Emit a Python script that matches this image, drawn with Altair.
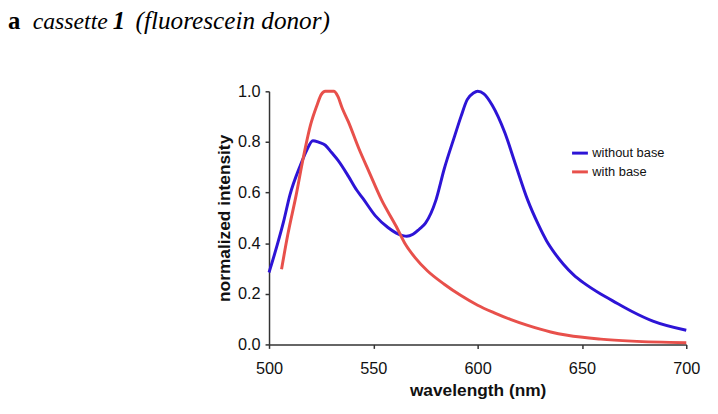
import altair as alt
import pandas as pd

# without base (blue)
blue_nm = [500, 504, 507, 510, 515, 518, 521, 524, 527, 530, 533, 538, 542, 545, 551,
           557, 561, 564, 566, 569, 572, 575, 580, 584, 589, 592, 595, 598, 600, 603,
           607, 613, 618, 624, 629, 633, 637, 641, 646, 651, 659, 667, 674, 684, 700]
blue_val = [0.284, 0.395, 0.486, 0.59, 0.707, 0.766, 0.805, 0.798, 0.787, 0.758, 0.728,
            0.665, 0.61, 0.577, 0.508, 0.462, 0.44, 0.43, 0.427, 0.435, 0.455, 0.479,
            0.57, 0.694, 0.824, 0.9, 0.967, 0.993, 1.0, 0.99, 0.945, 0.837, 0.715,
            0.57, 0.475, 0.41, 0.36, 0.318, 0.275, 0.242, 0.199, 0.162, 0.13, 0.092,
            0.056]

# with base (red)
red_nm = [506, 509, 513, 516, 520, 523, 525, 527, 531, 533, 535, 538, 543, 548, 554,
          561, 565, 570, 576, 584, 592, 600, 608, 616, 624, 635, 643, 659, 674, 700]
red_val = [0.297, 0.434, 0.59, 0.72, 0.87, 0.945, 0.987, 1.0, 1.0, 0.98, 0.935, 0.88,
           0.775, 0.681, 0.57, 0.466, 0.401, 0.343, 0.29, 0.238, 0.193, 0.155, 0.125,
           0.098, 0.075, 0.049, 0.036, 0.021, 0.013, 0.007]

series = ["without base", "with base"]
colors = ["#2d14d6", "#e8504b"]
x_ticks = [500, 550, 600, 650, 700]
y_ticks = [0.0, 0.2, 0.4, 0.6, 0.8, 1.0]

blue_df = pd.DataFrame({"nm": blue_nm, "val": blue_val, "series": series[0]})
red_df = pd.DataFrame({"nm": red_nm, "val": red_val, "series": series[1]})

color = alt.Color(
    "series:N",
    scale=alt.Scale(domain=series, range=colors),
    legend=alt.Legend(
        title=None, orient="none", legendX=305, legendY=53,
        symbolType="stroke", symbolStrokeWidth=3, symbolSize=256,
        labelFont="Liberation Sans", labelFontSize=13, labelColor="#111",
        rowPadding=2, symbolOffset=0, labelOffset=3,
    ),
)

xenc = alt.X(
    "nm:Q",
    scale=alt.Scale(domain=[500, 700], nice=False),
    axis=alt.Axis(
        title="wavelength (nm)", values=x_ticks, grid=False, labelFlush=False,
        labelFont="Liberation Sans", labelFontSize=16.5, labelColor="#111",
        titleFont="Liberation Sans", titleFontSize=17.5, titleFontWeight="bold",
        titleColor="#111", tickSize=4, labelPadding=12, titlePadding=5,
        domainColor="#333", tickColor="#333", domainWidth=1.5, tickWidth=1.5,
    ),
)
yenc = alt.Y(
    "val:Q",
    scale=alt.Scale(domain=[0, 1], nice=False),
    axis=alt.Axis(
        title="normalized intensity", values=y_ticks, format=".1f", grid=False,
        labelFont="Liberation Sans", labelFontSize=16.5, labelColor="#111",
        titleFont="Liberation Sans", titleFontSize=17.5, titleFontWeight="bold",
        titleColor="#111", tickSize=4, labelPadding=5, titlePadding=4,
        domainColor="#333", tickColor="#333", domainWidth=1.5, tickWidth=1.5,
    ),
)

blue_line = alt.Chart(blue_df).mark_line(strokeWidth=3, interpolate="monotone").encode(
    x=xenc, y=yenc, color=color)
red_line = alt.Chart(red_df).mark_line(strokeWidth=3, interpolate="monotone").encode(
    x=xenc, y=yenc, color=color)

one = pd.DataFrame({"k": [0]})


def label(txt, dx, style, weight, size):
    return alt.Chart(one).mark_text(
        text=txt, align="left", baseline="alphabetic", font="Liberation Serif",
        fontSize=size, fontStyle=style, fontWeight=weight, color="#000",
    ).encode(x=alt.value(dx), y=alt.value(-63))


title_parts = [
    label("a", -264, "normal", "bold", 25),
    label("cassette", -239, "italic", "normal", 24),
    label("1", -158, "italic", "bold", 25),
    label("(fluorescein donor)", -135, "italic", "normal", 25.5),
]

chart = alt.layer(blue_line, red_line, *title_parts).properties(
    width=422, height=256,
    autosize=alt.AutoSizeParams(type="none"),
    padding={"left": 264, "top": 82, "right": 24, "bottom": 60},
    background="white",
).configure_view(stroke=None)

chart.save("out.html", embed_options={"renderer": "svg", "actions": False})
